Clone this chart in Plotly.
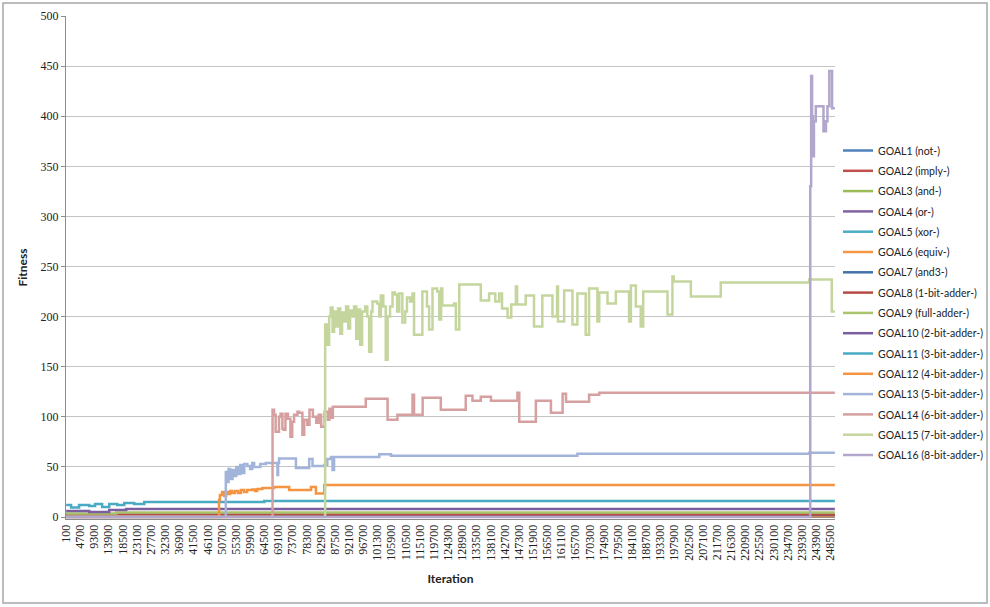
import plotly.graph_objects as go

# ---------------- data ----------------
SERIES_NAMES = [
    "GOAL1 (not-)", "GOAL2 (imply-)", "GOAL3 (and-)", "GOAL4 (or-)",
    "GOAL5 (xor-)", "GOAL6 (equiv-)", "GOAL7 (and3-)", "GOAL8 (1-bit-adder-)",
    "GOAL9 (full-adder-)", "GOAL10 (2-bit-adder-)", "GOAL11 (3-bit-adder-)",
    "GOAL12 (4-bit-adder-)", "GOAL13 (5-bit-adder-)", "GOAL14 (6-bit-adder-)",
    "GOAL15 (7-bit-adder-)", "GOAL16 (8-bit-adder-)",
]

X_TICK_LABELS = [
    100, 4700, 9300, 13900, 18500, 23100, 27700, 32300, 36900, 41500,
    46100, 50700, 55300, 59900, 64500, 69100, 73700, 78300, 82900, 87500,
    92100, 96700, 101300, 105900, 110500, 115100, 119700, 124300, 128900, 133500,
    138100, 142700, 147300, 151900, 156500, 161100, 165700, 170300, 174900, 179500,
    184100, 188700, 193300, 197900, 202500, 207100, 211700, 216300, 220900, 225500,
    230100, 234700, 239300, 243900, 248500,
]

# step-change points (iteration at which the fitness changes, new fitness)
GOAL1_ITER = [100, 250000]
GOAL1_FIT = [0.5, 0.5]
GOAL2_ITER = [100, 250000]
GOAL2_FIT = [1, 1]
GOAL3_ITER = [100, 250000]
GOAL3_FIT = [1, 1]
GOAL4_ITER = [100, 250000]
GOAL4_FIT = [1, 1]
GOAL5_ITER = [100, 250000]
GOAL5_FIT = [1.5, 1.5]
GOAL6_ITER = [100, 250000]
GOAL6_FIT = [1, 1]
GOAL7_ITER = [100, 250000]
GOAL7_FIT = [2, 2]
GOAL8_ITER = [100, 250000]
GOAL8_FIT = [2.5, 2.5]
GOAL9_ITER = [100, 16400, 250000]
GOAL9_FIT = [3.5, 4.5, 4.5]
GOAL10_ITER = [100, 7600, 14100, 19600, 250000]
GOAL10_FIT = [6, 5, 7, 8, 8]
GOAL11_ITER = [100, 1700, 4300, 7600, 9500, 11800, 14100, 16700, 19000, 22200,
               25500, 64500, 250000]
GOAL11_FIT = [12, 9.5, 12, 11, 13, 10, 13, 12, 14, 13,
              15, 16, 16]
GOAL12_ITER = [100, 49800, 50100, 50800, 51500, 52100, 52800, 53400, 54100, 55000,
               56000, 56900, 57900, 58900, 60600, 61500, 62200, 63900, 67700, 72600,
               79700, 81300, 84000, 250000]
GOAL12_FIT = [0, 17, 22, 25, 21, 25, 23, 26, 24, 26,
              24, 27, 25, 27, 27.5, 26, 28, 29, 30, 27,
              30, 23.5, 32, 32]
GOAL13_ITER = [100, 52000, 52400, 52900, 53400, 54200, 54700, 55400, 56000, 56700,
               57300, 58000, 59000, 59900, 60600, 61200, 62300, 63200, 65000, 68800,
               69000, 69300, 74800, 79100, 80200, 84000, 85000, 86200, 86700, 87200,
               101900, 105700, 166300, 241700, 250000]
GOAL13_FIT = [0, 45, 35, 48, 38, 47, 41, 50, 43, 52,
              44, 53, 51, 48, 54, 50, 50, 53, 54, 42,
              54, 58.5, 49, 58, 51, 52, 58, 60, 47, 60,
              62.5, 61, 63, 64, 64]
GOAL14_ITER = [100, 67200, 67700, 68200, 69300, 69800, 70400, 70800, 71400, 72200,
               73000, 73600, 74200, 75300, 75800, 76900, 77500, 78500, 79200, 80300,
               81400, 82200, 83000, 84100, 85200, 85700, 86200, 86800, 97500, 104600,
               107800, 112700, 113200, 116000, 121900, 130000, 132200, 134900, 138200, 146800,
               147400, 152800, 157700, 161500, 162600, 170100, 173400, 250000]
GOAL14_FIT = [0, 107, 102, 85, 100, 103, 88, 87, 103, 98,
              80, 95, 102, 105, 104, 82, 97, 92, 107, 100,
              94, 102, 90, 105, 97, 108, 99, 110, 118, 97,
              102, 122, 102, 119, 107, 121, 116, 120, 116, 124,
              95, 116, 104, 123, 115, 122, 124, 124]
GOAL15_ITER = [100, 84300, 85000, 85600, 86100, 86700, 87200, 87900, 88500, 89200,
               89800, 90500, 91100, 91800, 92400, 93100, 93700, 94400, 95000, 95700,
               96300, 97300, 98000, 98600, 99300, 99700, 101200, 101900, 102400, 103200,
               104000, 104600, 105400, 106200, 107000, 107700, 108400, 109400, 110300, 110900,
               111900, 112700, 113200, 115900, 117400, 118100, 119200, 120700, 121400, 122000,
               122400, 126200, 126800, 127900, 134900, 137600, 139600, 140900, 141800, 143600,
               144800, 146300, 146700, 149500, 152200, 154900, 158200, 159700, 160000, 162000,
               164700, 166300, 169000, 170100, 172800, 173400, 176100, 178800, 183100, 183700,
               185300, 186900, 187700, 195600, 197200, 197600, 203200, 212900, 241700, 249000,
               250000]
GOAL15_FIT = [0, 192, 172, 200, 209, 185, 205, 190, 208, 183,
              204, 195, 210, 188, 206, 200, 210, 178, 207, 172,
              205, 210, 200, 165, 205, 215, 213, 200, 221, 210,
              157, 200, 210, 224, 222, 205, 223, 194, 205, 219,
              215, 223, 182, 225, 210, 187, 228, 225, 197, 228,
              211, 213, 187, 232, 216, 223, 215, 223, 208, 199,
              212, 230, 212, 221, 190, 221, 200, 230, 195, 226,
              192, 223, 182, 228, 195, 224, 213, 225, 195, 231,
              210, 190, 225, 202, 240, 235, 220, 234, 237, 205,
              205]
GOAL16_ITER = [100, 242000, 242300, 242600, 242900, 243200, 243800, 246300, 247100, 247600,
               248200, 249100, 250000]
GOAL16_FIT = [0, 330, 440, 400, 360, 395, 410, 385, 395, 410,
              445, 408, 408]

SERIES_ITERS = [GOAL1_ITER, GOAL2_ITER, GOAL3_ITER, GOAL4_ITER, GOAL5_ITER, GOAL6_ITER,
                GOAL7_ITER, GOAL8_ITER, GOAL9_ITER, GOAL10_ITER, GOAL11_ITER, GOAL12_ITER,
                GOAL13_ITER, GOAL14_ITER, GOAL15_ITER, GOAL16_ITER]
SERIES_FITS = [GOAL1_FIT, GOAL2_FIT, GOAL3_FIT, GOAL4_FIT, GOAL5_FIT, GOAL6_FIT,
               GOAL7_FIT, GOAL8_FIT, GOAL9_FIT, GOAL10_FIT, GOAL11_FIT, GOAL12_FIT,
               GOAL13_FIT, GOAL14_FIT, GOAL15_FIT, GOAL16_FIT]

# ---------------- style ----------------
COLORS = ["#4F81BD", "#C0504D", "#9BBB59", "#8064A2", "#4BACC6", "#F79646",
          "#4472A8", "#B84A45", "#A9C46C", "#7B5E9F", "#4AAAC4", "#F59440",
          "#A2B4DA", "#D6A0A0", "#C4D69E", "#B2A6CC"]

fig = go.Figure()
for name, its, fits, col in zip(SERIES_NAMES, SERIES_ITERS, SERIES_FITS, COLORS):
    fig.add_trace(go.Scatter(
        x=its, y=fits, mode="lines", name=name, legendgroup=name,
        line=dict(color=col, width=2.5, shape="hv"),
    ))

SERIF = "Liberation Serif"
SANS = "Lato"

fig.update_layout(
    width=990, height=607,
    margin=dict(l=66, r=155, t=16, b=88, autoexpand=False),
    paper_bgcolor="white", plot_bgcolor="white",
    showlegend=True,
    legend=dict(
        xref="container", yref="container",
        x=838 / 990, y=1 - 136 / 607, xanchor="left", yanchor="top",
        font=dict(family=SANS, size=10.5, color="#222222"),
        bgcolor="rgba(0,0,0,0)", borderwidth=0, tracegroupgap=1.3,
        maxheight=420,
    ),
    xaxis=dict(
        range=[50, 250050], tickmode="array",
        tickvals=X_TICK_LABELS, ticktext=[str(v) for v in X_TICK_LABELS],
        tickangle=-90, tickfont=dict(family=SERIF, size=12, color="#222222"),
        showgrid=False, zeroline=False, showline=True,
        linecolor="#8C8C8C", linewidth=1, ticks="",
        title=dict(text="Iteration", standoff=14,
                   font=dict(family=SANS, size=12, color="#222222", weight="bold")),
    ),
    yaxis=dict(
        range=[-2, 500], tickmode="linear", tick0=0, dtick=50,
        tickfont=dict(family=SERIF, size=12, color="#222222"),
        showgrid=True, gridcolor="#C4C4C4", gridwidth=1,
        zeroline=False, showline=True, linecolor="#8C8C8C", linewidth=1,
        ticks="outside", ticklen=4, tickcolor="#8C8C8C",
        title=dict(text="Fitness", standoff=10,
                   font=dict(family=SANS, size=12, color="#222222", weight="bold")),
    ),
    shapes=[dict(
        type="rect", xref="paper", yref="paper",
        x0=(3 - 66) / 769, x1=(987 - 66) / 769,
        y0=(519 - 603) / 503, y1=(519 - 3) / 503,
        line=dict(color="#A6A6A6", width=1.5), fillcolor="rgba(0,0,0,0)",
        layer="below",
    )],
)

fig.write_html("out.html")
